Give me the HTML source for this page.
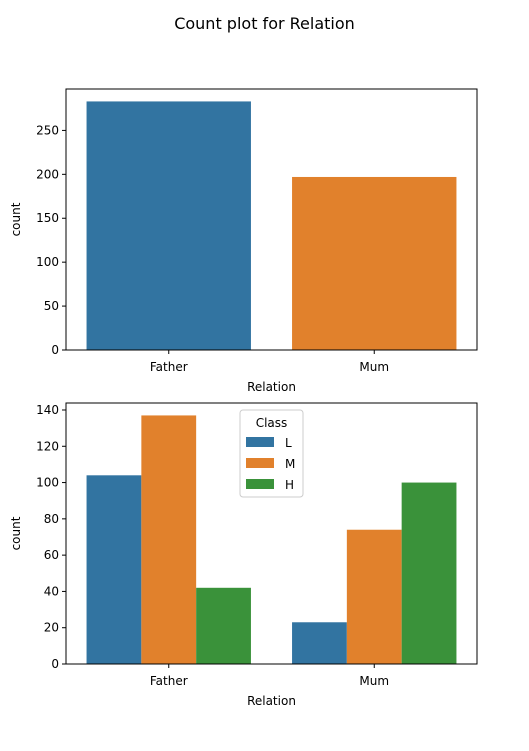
<!DOCTYPE html>
<html><head><meta charset="utf-8"><style>
body{margin:0;background:#fff;font-family:"Liberation Sans","DejaVu Sans",sans-serif}
svg text{font-family:"DejaVu Sans","Liberation Sans",sans-serif}
</style></head><body>
<svg id="c" width="529" height="746" xmlns="http://www.w3.org/2000/svg">
<rect width="529" height="746" fill="#fff"/>
<text x="264.5" y="29" text-anchor="middle" font-size="16">Count plot for Relation</text>
</svg>
<script>
const categories=["Father","Mum"];
const totalCounts=[283,197];
const hueLabels=["L","M","H"];
const hueL=[104,23];
const hueM=[137,74];
const hueH=[42,100];
const topTicks=[0,50,100,150,200,250];
const bottomTicks=[0,20,40,60,80,100,120,140];
const colors=["#3274a1","#e1812c","#3a923a"];
const svg=document.getElementById('c');
const NS="http://www.w3.org/2000/svg";
function mk(t,a,txt){const e=document.createElementNS(NS,t);for(const k in a)e.setAttribute(k,a[k]);if(txt!=null)e.textContent=txt;svg.appendChild(e);return e;}
function axes(L,R,T,B,ymax,ticks,name){
 const xs=v=>L+(v+0.5)/2*(R-L);
 const ys=v=>B-v/ymax*(B-T);
 return {xs,ys,draw(){
  const f=mk('rect',{x:L,y:T,width:R-L,height:B-T,fill:'none',stroke:'#000','stroke-width':1});
  
  ticks.forEach(t=>{const y=ys(t);
   const l=mk('line',{x1:L-4,x2:L,y1:y,y2:y,stroke:'#000'});
   const tx=mk('text',{x:L-7,y:y+4,'text-anchor':'end','font-size':12},String(t));});
  categories.forEach((c,i)=>{const x=xs(i);
   const l=mk('line',{x1:x,x2:x,y1:B,y2:B+4,stroke:'#000'});
   const tx=mk('text',{x:x,y:B+21,'text-anchor':'middle','font-size':12},c);});
  const xl=mk('text',{x:(L+R)/2,y:B+41,'text-anchor':'middle','font-size':12},'Relation');
  const yl=mk('text',{x:0,y:0,'text-anchor':'middle','font-size':12,transform:`translate(${L-46},${(T+B)/2}) rotate(-90)`},'count');
 }};
}
const a1=axes(66,477,89,350,283*1.05,topTicks,'top');
totalCounts.forEach((v,i)=>{const x=a1.xs(i-0.4),w=a1.xs(0.4)-a1.xs(-0.4);
 const r=mk('rect',{x:x,y:a1.ys(v),width:w,height:a1.ys(0)-a1.ys(v),fill:colors[i]});
 });
a1.draw();
const series=[hueL,hueM,hueH];
const bmax=Math.max(...hueL,...hueM,...hueH)*1.05;
const a2=axes(66,477,403,664,bmax,bottomTicks,'bottom');
const hw=0.8/3;
series.forEach((s,h)=>s.forEach((v,i)=>{const x0=i-0.4+h*hw;
 const r=mk('rect',{x:a2.xs(x0),y:a2.ys(v),width:a2.xs(x0+hw)-a2.xs(x0),height:a2.ys(0)-a2.ys(v),fill:colors[h]});
 }));
a2.draw();
const lg=mk('rect',{x:240,y:410,width:63,height:87,rx:3,fill:'#fff','fill-opacity':0.8,stroke:'#ccc'});

const lt=mk('text',{x:271.5,y:427,'text-anchor':'middle','font-size':12},'Class');

hueLabels.forEach((h,k)=>{const y=437+k*21;
 const sw=mk('rect',{x:246,y:y,width:28,height:10,fill:colors[k]});
 const t=mk('text',{x:285,y:y+10,'font-size':12},h);});
</script>
</body></html>
